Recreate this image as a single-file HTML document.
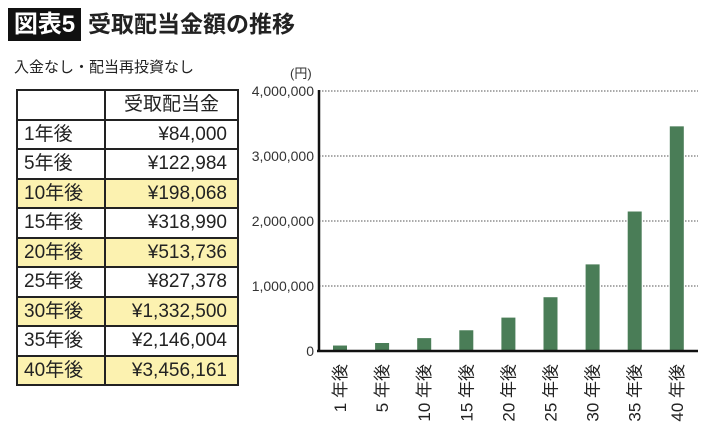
<!DOCTYPE html>
<html><head><meta charset="utf-8"><style>
body{margin:0;width:710px;height:423px;background:#fff;font-family:"Liberation Sans","Noto Sans CJK JP",sans-serif;color:#222;position:relative;overflow:hidden}
.abs{position:absolute}
table{border-collapse:collapse;position:absolute;left:16px;top:89px;width:223px}
td{border:2px solid #222;height:27.5px;font-size:19px;padding:0 6px;line-height:27px;box-sizing:border-box}
tr{height:29.5px}
td.v{text-align:right;padding-right:10px}
tr.y td{background:#fcf2b0}
</style></head><body>
<div class="abs" style="left:8px;top:8px;width:73px;height:33px;background:#111;color:#fff;font-size:24px;line-height:33px;text-align:center;font-weight:bold">図表5</div>
<div class="abs" style="left:88px;top:8px;font-size:23px;line-height:33px;font-weight:bold">受取配当金額の推移</div>
<div class="abs" style="left:14px;top:56px;font-size:15px">入金なし・配当再投資なし</div>
<table>
<tr><td style="width:88px"></td><td style="text-align:center">受取配当金</td></tr>
<tr><td>1年後</td><td class="v">¥84,000</td></tr>
<tr><td>5年後</td><td class="v">¥122,984</td></tr>
<tr class="y"><td>10年後</td><td class="v">¥198,068</td></tr>
<tr><td>15年後</td><td class="v">¥318,990</td></tr>
<tr class="y"><td>20年後</td><td class="v">¥513,736</td></tr>
<tr><td>25年後</td><td class="v">¥827,378</td></tr>
<tr class="y"><td>30年後</td><td class="v">¥1,332,500</td></tr>
<tr><td>35年後</td><td class="v">¥2,146,004</td></tr>
<tr class="y"><td>40年後</td><td class="v">¥3,456,161</td></tr>
</table>
<svg class="abs" style="left:0;top:0" width="710" height="423" id="chart"></svg>
<script>
const categories=["1","5","10","15","20","25","30","35","40"];
const values=[84000,122984,198068,318990,513736,827378,1332500,2146004,3456161];
const ticks=[0,1000000,2000000,3000000,4000000];
const tickLabels=["0","1,000,000","2,000,000","3,000,000","4,000,000"];
const svg=document.getElementById('chart');
const NS='http://www.w3.org/2000/svg';
const x0=319,x1=698,yTop=91,yBot=351,yMax=4000000;
const y=v=>yBot-(v/yMax)*(yBot-yTop);
const step=42.1,first=340;
const xc=i=>first+i*step;
function mk(t,a){const e=document.createElementNS(NS,t);for(const k in a)e.setAttribute(k,a[k]);svg.appendChild(e);return e;}
ticks.forEach((t,i)=>{
 if(t>0){const l=mk('line',{x1:x0,x2:x1,y1:y(t),y2:y(t),stroke:'#555','stroke-width':1,'stroke-dasharray':'1.5,1.5'});
 
 }
 const tx=mk('text',{x:x0-5,y:y(t)+5,'text-anchor':'end','font-size':14,fill:'#333'});
 tx.textContent=tickLabels[i];
 
 
});
const unit=mk('text',{x:290,y:78,'font-size':13,fill:'#333'});unit.textContent='(円)';


values.forEach((v,i)=>{
 const r=mk('rect',{x:xc(i)-7,y:y(v),width:14,height:yBot-y(v),fill:'#4a7d57'});
 
 
 const t=mk('text',{x:0,y:0,'font-size':17,fill:'#222','text-anchor':'end',transform:`translate(${xc(i)+6},364) rotate(-90)`});
 t.textContent=categories[i]+' 年後';
 
 
});
const ax=mk('line',{x1:x0,x2:x0,y1:yTop-1,y2:yBot+1,stroke:'#111','stroke-width':2.5});


const bx=mk('line',{x1:x0-2,x2:x1,y1:yBot,y2:yBot,stroke:'#111','stroke-width':2.5});


</script>
</body></html>
